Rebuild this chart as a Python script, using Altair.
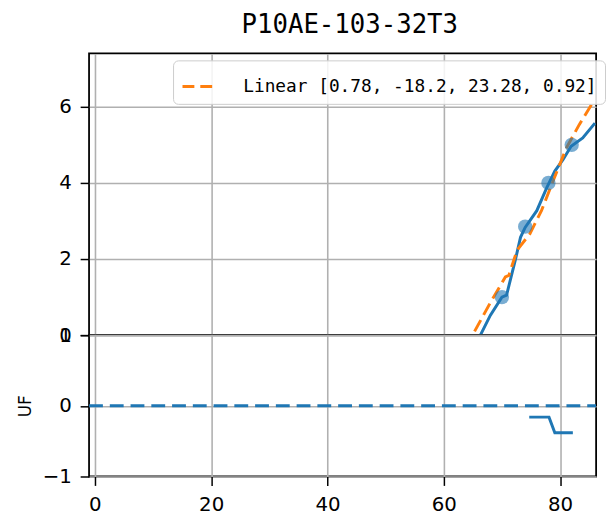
import altair as alt
import pandas as pd

title_text = "P10AE-103-32T3"
legend_label = "Linear [0.78, -18.2, 23.28, 0.92]"

# measured curve (blue solid)
fit_x = [66.3, 68.0, 70.0, 70.8, 72.3, 73.2, 74.0, 76.0, 77.7, 79.1, 80.5, 81.9, 83.9, 86.0]
fit_y = [0.0, 0.52, 1.0, 1.05, 1.97, 2.57, 2.83, 3.27, 3.87, 4.31, 4.61, 4.96, 5.18, 5.57]

# linear fit (orange dashed)
lin_x = [65.3, 68.0, 70.6, 71.2, 72.6, 74.8, 76.8, 78.8, 81.1, 83.3, 85.9]
lin_y = [0.1, 0.85, 1.53, 1.57, 2.23, 2.66, 3.27, 4.05, 4.92, 5.53, 6.18]

# observed points
pts_x = [70, 74, 78, 82]
pts_y = [1.0, 2.85, 4.0, 5.0]

# UF panel
uf_x = [74.7, 78.1, 79.1, 82.2]
uf_y = [-0.16, -0.16, -0.38, -0.38]
zero_x = [-1, 86.2]
zero_y = [0, 0]

x_ticks = [0, 20, 40, 60, 80]
top_ticks = [0, 2, 4, 6]
bot_ticks = [-1, 0, 1]

XDOM = [-1, 86.2]
TOPDOM = [0, 7.4]
BOTDOM = [-1, 1]

BLUE = "#1f77b4"
ORANGE = "#ff7f0e"
GRID = "#b0b0b0"
TICKFONT = "DejaVu Sans"
MONO = "DejaVu Sans Mono"
LABEL_EXPR = "datum.value < 0 ? '\u2212' + abs(datum.value) : '' + datum.value"

df_fit = pd.DataFrame({"x": fit_x, "y": fit_y})
df_lin = pd.DataFrame({"x": lin_x, "y": lin_y, "s": [legend_label] * len(lin_x)})
df_pts = pd.DataFrame({"x": pts_x, "y": pts_y})
df_uf = pd.DataFrame({"x": uf_x, "y": uf_y})
df_zero = pd.DataFrame({"x": zero_x, "y": zero_y})

xscale = alt.Scale(domain=XDOM, nice=False, zero=False)

grid_kw = dict(grid=True, gridColor=GRID, gridWidth=1.6, gridOpacity=1, domain=False)
tick_kw = dict(tickColor="black", tickWidth=1.5, tickSize=9,
               labelFont=TICKFONT, labelFontSize=20, labelColor="black",
               labelFlush=False, labelPadding=9, labelOverlap=False, labelExpr=LABEL_EXPR)

x_top = alt.X("x:Q", scale=xscale,
              axis=alt.Axis(values=x_ticks, orient="top", labels=False, ticks=False, title=None, **grid_kw))
y_top = alt.Y("y:Q", scale=alt.Scale(domain=TOPDOM, nice=False, zero=False),
              axis=alt.Axis(values=top_ticks, title=None, **grid_kw, **tick_kw))

line_fit = alt.Chart(df_fit).mark_line(color=BLUE, strokeWidth=3, clip=True).encode(x=x_top, y=y_top)
line_lin = alt.Chart(df_lin).mark_line(strokeWidth=3, strokeDash=[13, 6], clip=True).encode(
    x=x_top, y=y_top,
    color=alt.Color("s:N", scale=alt.Scale(domain=[legend_label], range=[ORANGE]),
                    legend=alt.Legend(
                        title=None, orient="none", legendX=85, legendY=7,
                        symbolType="stroke", symbolSize=1150, symbolStrokeWidth=3,
                        symbolDash=[12, 6], symbolStrokeColor=ORANGE,
                        labelFont=MONO, labelFontSize=18, labelColor="black", labelLimit=600,
                        labelOffset=26, padding=8, cornerRadius=5,
                        strokeColor="#cccccc", fillColor="rgba(255,255,255,0.85)",
                    )))
pts = alt.Chart(df_pts).mark_circle(color=BLUE, size=210, opacity=0.6).encode(x=x_top, y=y_top)

top = alt.layer(line_fit, line_lin, pts).properties(
    width=513, height=285,
    title=alt.TitleParams(title_text, font=MONO, fontSize=26, fontWeight="normal",
                          color="black", anchor="start", dx=185, offset=16),
)

x_bot = alt.X("x:Q", scale=xscale,
              axis=alt.Axis(values=x_ticks, title=None, **grid_kw, **tick_kw))
y_bot = alt.Y("y:Q", scale=alt.Scale(domain=BOTDOM, nice=False, zero=False),
              axis=alt.Axis(values=bot_ticks, title="UF", titleFont=TICKFONT, titleFontSize=17,
                            titleFontWeight="normal", titleColor="black", titlePadding=8,
                            **grid_kw, **tick_kw))

zero_line = alt.Chart(df_zero).mark_line(color=BLUE, strokeWidth=3, strokeDash=[14, 7], clip=True).encode(x=x_bot, y=y_bot)
uf_line = alt.Chart(df_uf).mark_line(color=BLUE, strokeWidth=3, clip=True).encode(x=x_bot, y=y_bot)

bottom = alt.layer(zero_line, uf_line).properties(width=513, height=143)

chart = alt.vconcat(top, bottom, spacing=0, bounds="flush").properties(
    padding={"left": 7, "top": 0, "right": 0, "bottom": 0}
).configure(background="white").configure_view(stroke="black", strokeWidth=1.8)

chart.save("out.html", embed_options={"renderer": "svg", "actions": False})
